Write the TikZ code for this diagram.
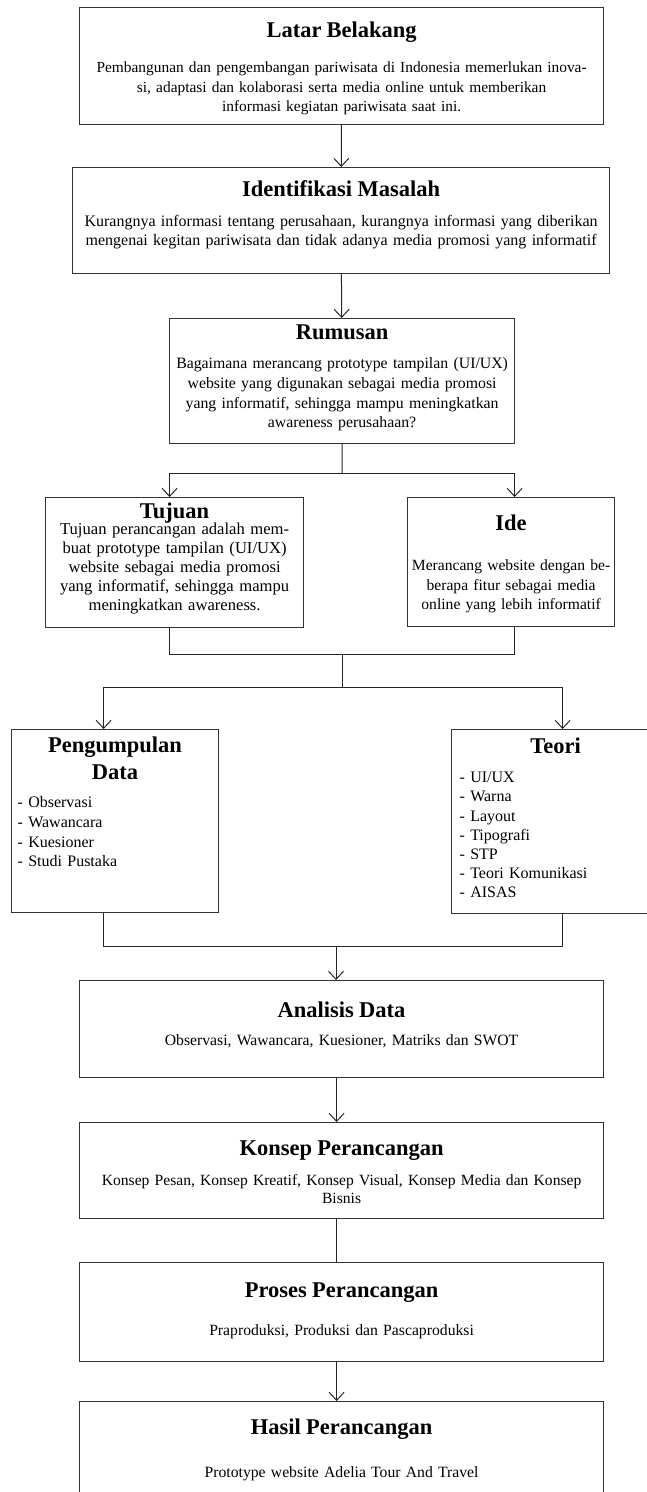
\documentclass[tikz,border=0pt]{standalone}
\usepackage{fontspec}
\setmainfont{Liberation Serif}
\usetikzlibrary{arrows.meta}

\newcommand{\boxtitle}[1]{{\centering\fontsize{22.5}{27}\selectfont\bfseries #1\par}}

\begin{document}
\begin{tikzpicture}[x=1pt, y=-1pt,
	box/.style={draw=black!80, line width=1.2pt, inner xsep=4pt, inner ysep=0pt, anchor=north west, align=center, font=\fontsize{15.7}{19}\selectfont},
	link/.style={line width=1pt, draw=black!85},
	>={Straight Barb[length=8pt, width=15pt]},
	]
	\useasboundingbox (0,0) rectangle (646,1492);

	\node[box, text width=516pt, text height=30pt, text depth=87pt, font=\fontsize{15.4}{19.2}\selectfont] (latar) at (79,7) {\boxtitle{Latar Belakang}\vspace{16pt}
		Pembangunan dan pengembangan pariwisata di Indonesia memerlukan inova-\\
		si, adaptasi dan kolaborasi serta media online untuk memberikan\\
		informasi kegiatan pariwisata saat ini.};
	\node[box, text width=529pt, text height=29pt, text depth=77pt, font=\fontsize{16}{18.5}\selectfont] (identifikasi) at (72,167) {\boxtitle{Identifikasi Masalah}\vspace{11.5pt}
		Kurangnya informasi tentang perusahaan, kurangnya informasi yang diberikan\\
		mengenai kegitan pariwisata dan tidak adanya media promosi yang informatif};
	\node[box, inner xsep=2pt, text width=341pt, text height=21pt, text depth=104pt, font=\fontsize{15.8}{19.7}\selectfont] (rumusan) at (169,318) {\boxtitle{Rumusan}\vspace{9.3pt}
		Bagaimana merancang prototype tampilan (UI/UX)\\
		website yang digunakan sebagai media promosi\\
		yang informatif, sehingga mampu meningkatkan\\
		awareness perusahaan?};

	\node[box, inner xsep=2pt, text width=254pt, text height=21pt, text depth=109pt, font=\fontsize{16.6}{19}\selectfont] (tujuan) at (45,497) {\boxtitle{Tujuan}\vspace{-3pt}
		Tujuan perancangan adalah mem-\\
		buat prototype tampilan (UI/UX)\\
		website sebagai media promosi\\
		yang informatif, sehingga mampu\\
		meningkatkan awareness.};
	\node[box, inner xsep=2pt, text width=203pt, text height=33pt, text depth=96pt, font=\fontsize{15.6}{19.5}\selectfont] (ide) at (407,497) {\boxtitle{Ide}\vspace{20.5pt}
		Merancang website dengan be-\\
		berapa fitur sebagai media\\
		online yang lebih informatif};

	\node[box, inner xsep=6pt, text width=195pt, text height=23pt, text depth=160pt, align=left, font=\fontsize{16}{19.7}\selectfont] (pengumpulan) at (11,729) {\boxtitle{Pengumpulan\\Data}\vspace{8.3pt}
		- Observasi\\
		- Wawancara\\
		- Kuesioner\\
		- Studi Pustaka};
	\node[box, inner xsep=8pt, text width=192pt, text height=24pt, text depth=160pt, align=left, font=\fontsize{16}{19.2}\selectfont] (teori) at (451,729) {\boxtitle{Teori}\vspace{9.8pt}
		- UI/UX\\
		- Warna\\
		- Layout\\
		- Tipografi\\
		- STP\\
		- Teori Komunikasi\\
		- AISAS};

	\node[box, text width=516pt, text height=37pt, text depth=60pt] (analisis) at (79,980) {\boxtitle{Analisis Data}\vspace{9pt}
		Observasi, Wawancara, Kuesioner, Matriks dan SWOT};
	\node[box, text width=516pt, text height=33pt, text depth=63pt, font=\fontsize{15.6}{18}\selectfont] (konsep) at (79,1122) {\boxtitle{Konsep Perancangan}\vspace{12pt}
		Konsep Pesan, Konsep Kreatif, Konsep Visual, Konsep Media dan Konsep\\
		Bisnis};
	\node[box, text width=516pt, text height=35pt, text depth=64pt] (proses) at (79,1262) {\boxtitle{Proses Perancangan}\vspace{19pt}
		Praproduksi, Produksi dan Pascaproduksi};
	\node[box, text width=516pt, text height=33pt, text depth=67pt] (hasil) at (79,1401) {\boxtitle{Hasil Perancangan}\vspace{24pt}
		Prototype website Adelia Tour And Travel};

	\coordinate (split1) at (342,473);
	\coordinate (merge1) at (342,654);
	\coordinate (split2) at (342,687);
	\coordinate (merge2) at (336,946);

	\draw[link, ->] (latar) -- (identifikasi);
	\draw[link, ->] (identifikasi) -- (rumusan);
	\draw[link] (rumusan.south) -- (split1);
	\draw[link, ->] (split1) -| ([xshift=-5pt]tujuan.north);
	\draw[link, ->] (split1) -| ([xshift=3.5pt]ide.north);

	\draw[link] ([xshift=-5pt]tujuan.south) |- (merge1) -| ([xshift=3.5pt]ide.south);
	\draw[link] (merge1) -- (split2);
	\draw[link, ->] (split2) -| ([xshift=-11.5pt]pengumpulan.north);
	\draw[link, ->] (split2) -| ([xshift=7pt]teori.north);

	\draw[link] ([xshift=-11.5pt]pengumpulan.south) |- (merge2) -| ([xshift=7pt]teori.south);
	\draw[link, ->] (merge2) -- (merge2 |- analisis.north);
	\draw[link, ->] ([xshift=-5pt]analisis.south) -- ([xshift=-5pt]konsep.north);
	\draw[link] ([xshift=-5pt]konsep.south) -- ([xshift=-5pt]proses.north);
	\draw[link, ->] ([xshift=-5pt]proses.south) -- ([xshift=-5pt]hasil.north);

\end{tikzpicture}
\end{document}
